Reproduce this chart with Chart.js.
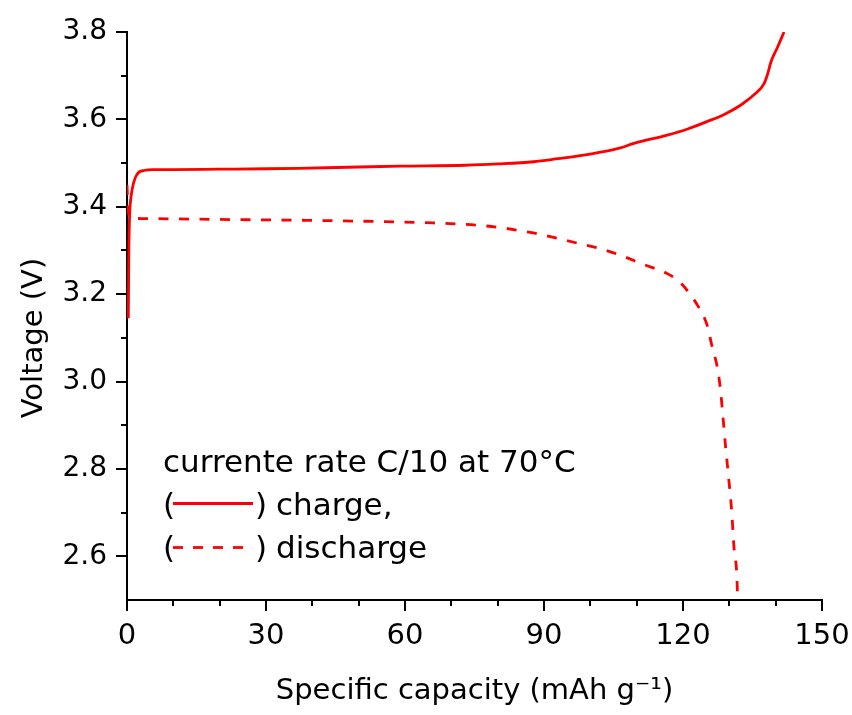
<!DOCTYPE html>
<html>
<head>
<meta charset="utf-8">
<script src="https://cdn.jsdelivr.net/npm/chart.js@4.4.1/dist/chart.umd.min.js"></script>
<style>
html,body{margin:0;padding:0;background:#ffffff;}
#wrap{width:852px;height:715px;}
</style>
</head>
<body>
<div id="wrap"><canvas id="c" width="852" height="715"></canvas></div>
<script>
// ---- data ----
const chargeCapacity = [0.28, 0.4, 0.58, 0.78, 1.15, 1.73, 2.45, 3.68, 5.5, 10, 20, 30, 37, 50, 59, 73, 80, 87.7, 93, 98.6, 102.2, 106.5, 109.4, 116.6, 121, 125.2, 129, 132.5, 135.5, 137.5, 138.3, 139, 140.4, 141.8];
const chargeVoltage  = [3.145, 3.30, 3.385, 3.415, 3.442, 3.465, 3.478, 3.483, 3.485, 3.485, 3.486, 3.487, 3.488, 3.491, 3.493, 3.495, 3.498, 3.503, 3.510, 3.518, 3.525, 3.535, 3.545, 3.564, 3.578, 3.595, 3.612, 3.633, 3.658, 3.682, 3.705, 3.732, 3.765, 3.800];

const dischargeCapacity = [0, 0.2, 0.6, 3.2, 20, 38.7, 55, 66.1, 77.6, 87.7, 97.1, 102.2, 106.5, 111.5, 116.6, 119.5, 121.5, 123.1, 125.2, 126.3, 127.4, 128.1, 128.5, 129.2, 129.9, 130.5, 131.0, 131.6, 131.8];
const dischargeVoltage  = [3.45, 3.40, 3.376, 3.373, 3.371, 3.369, 3.366, 3.363, 3.356, 3.340, 3.317, 3.304, 3.289, 3.268, 3.247, 3.226, 3.200, 3.175, 3.129, 3.079, 3.033, 2.98, 2.934, 2.85, 2.774, 2.705, 2.621, 2.56, 2.50];

const xMajorTicks = [0, 30, 60, 90, 120, 150];
const yMajorTicks = [2.6, 2.8, 3.0, 3.2, 3.4, 3.6, 3.8];

const xAxisTitle = 'Specific capacity (mAh g\u207B\u00B9)';
const yAxisTitle = 'Voltage (V)';
const noteTitle = 'currente rate C/10 at 70\u00B0C';
const noteCharge = 'charge,';
const noteDischarge = 'discharge';

// ---- helpers ----
const FONT = '"DejaVu Sans", "Liberation Sans", Arial, sans-serif';
const RED = '#ff0000';
const LINE_W = 2.8;
const near = (a, b) => Math.abs(a - b) < 1e-6;
const isXMajor = v => xMajorTicks.some(t => near(t, v));
const isYMajor = v => yMajorTicks.some(t => near(t, v));

// tick marks (major long, minor short) placed with the chart's own scales
const tickMarks = {
  id: 'tickMarks',
  afterDraw(chart) {
    const {ctx, scales: {x, y}, chartArea} = chart;
    ctx.save();
    ctx.strokeStyle = '#000';
    ctx.lineWidth = 2;
    x.ticks.forEach(t => {
      const len = isXMajor(t.value) ? 11 : 6;
      const px = Math.round(x.getPixelForValue(t.value));
      ctx.beginPath();
      ctx.moveTo(px, chartArea.bottom);
      ctx.lineTo(px, chartArea.bottom + len);
      ctx.stroke();
    });
    y.ticks.forEach(t => {
      if (near(t.value, 2.5)) return;
      const len = isYMajor(t.value) ? 11 : 6;
      const py = Math.round(y.getPixelForValue(t.value));
      ctx.beginPath();
      ctx.moveTo(chartArea.left, py);
      ctx.lineTo(chartArea.left - len, py);
      ctx.stroke();
    });
    ctx.restore();
  }
};

// vertical axis title, placed like the original (slightly below the axis centre)
const yTitle = {
  id: 'yTitle',
  afterDraw(chart) {
    const ctx = chart.ctx;
    ctx.save();
    ctx.font = '29px ' + FONT;
    ctx.fillStyle = '#000';
    ctx.textAlign = 'center';
    ctx.textBaseline = 'middle';
    ctx.translate(34, 338);
    ctx.rotate(-Math.PI / 2);
    ctx.fillText(yAxisTitle, 0, 0);
    ctx.restore();
  }
};

const noteBox = {
  id: 'noteBox',
  afterDraw(chart) {
    const ctx = chart.ctx;
    ctx.save();
    ctx.font = '31px ' + FONT;
    ctx.fillStyle = '#000';
    ctx.textBaseline = 'alphabetic';
    ctx.textAlign = 'left';
    ctx.fillText(noteTitle, 163, 472);
    // line 2
    ctx.fillText('(', 163, 515);
    ctx.fillText(')', 255, 515);
    ctx.fillText(noteCharge, 276, 515);
    ctx.strokeStyle = RED;
    ctx.lineWidth = LINE_W;
    ctx.beginPath();
    ctx.moveTo(173, 503.5);
    ctx.lineTo(253, 503.5);
    ctx.stroke();
    // line 3
    ctx.fillText('(', 163, 558);
    ctx.fillText(')', 255, 558);
    ctx.fillText(noteDischarge, 276, 558);
    ctx.setLineDash([10, 10]);
    ctx.beginPath();
    ctx.moveTo(173, 547.5);
    ctx.lineTo(245, 547.5);
    ctx.stroke();
    ctx.restore();
  }
};

const toPoints = (xs, ys) => xs.map((v, i) => ({x: v, y: ys[i]}));

new Chart(document.getElementById('c'), {
  type: 'scatter',
  data: {
    datasets: [
      {
        label: 'charge',
        data: toPoints(chargeCapacity, chargeVoltage),
        showLine: true,
        borderColor: RED,
        borderWidth: LINE_W,
        pointRadius: 0,
        cubicInterpolationMode: 'monotone',
        fill: false
      },
      {
        label: 'discharge',
        data: toPoints(dischargeCapacity, dischargeVoltage),
        showLine: true,
        borderColor: RED,
        borderWidth: LINE_W,
        borderDash: [10, 10.5],
        pointRadius: 0,
        cubicInterpolationMode: 'monotone',
        fill: false
      }
    ]
  },
  options: {
    responsive: false,
    animation: false,
    devicePixelRatio: 1,
    layout: {padding: {top: 32, right: 30, left: 0, bottom: 0}},
    plugins: {legend: {display: false}, tooltip: {enabled: false}},
    scales: {
      x: {
        type: 'linear',
        min: 0, max: 150,
        afterFit: s => { s.height = 115; },
        border: {display: true, color: '#000', width: 2},
        grid: {
          display: true, drawOnChartArea: false, drawTicks: true,
          tickLength: 19, tickWidth: 0, tickColor: 'rgba(0,0,0,0)'
        },
        ticks: {
          stepSize: 10, autoSkip: false, maxRotation: 0, padding: 0,
          color: '#000', font: {family: FONT, size: 29},
          callback: v => isXMajor(v) ? String(Math.round(v)) : ''
        },
        title: {
          display: true, text: xAxisTitle, color: '#000',
          font: {family: FONT, size: 29}, padding: {top: 0, bottom: 6}
        }
      },
      y: {
        type: 'linear',
        min: 2.5, max: 3.8,
        afterFit: s => { s.width = 127; },
        border: {display: true, color: '#000', width: 2},
        grid: {
          display: true, drawOnChartArea: false, drawTicks: true,
          tickLength: 11, tickWidth: 0, tickColor: 'rgba(0,0,0,0)'
        },
        ticks: {
          stepSize: 0.1, autoSkip: false, padding: 9,
          color: '#000', font: {family: FONT, size: 28},
          callback: v => isYMajor(v) ? Number(v).toFixed(1) : ''
        },
        title: {display: false}
      }
    }
  },
  plugins: [tickMarks, yTitle, noteBox]
});
</script>
</body>
</html>
